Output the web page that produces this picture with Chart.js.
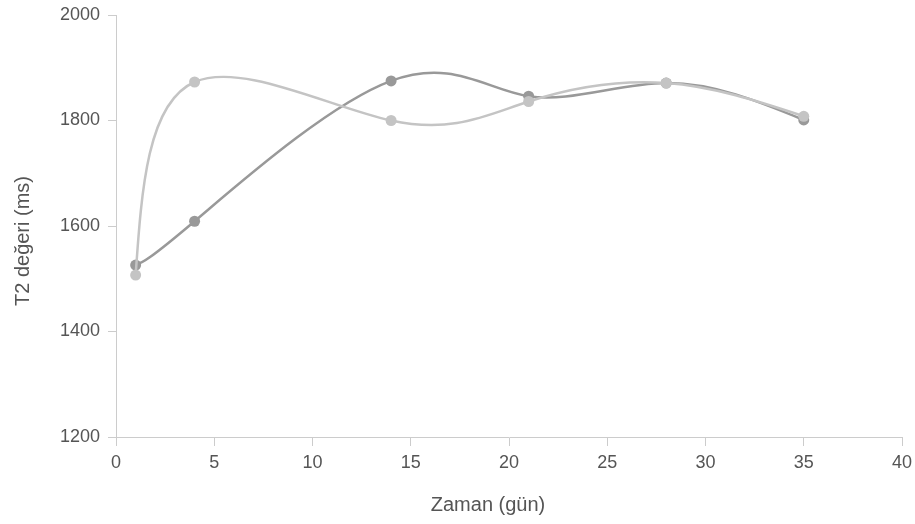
<!DOCTYPE html>
<html>
<head>
<meta charset="utf-8">
<script src="https://cdn.jsdelivr.net/npm/chart.js@4/dist/chart.umd.min.js"></script>
<style>
  html, body { margin: 0; padding: 0; background: #fff; }
  #wrap { width: 915px; height: 524px; position: relative; }
</style>
</head>
<body>
<div id="wrap"><canvas id="c"></canvas></div>
<script>
// Measurement days and T2 values (ms) for the two series
const days = [1, 4, 14, 21, 28, 35];
const seriesA = [1526, 1609, 1875, 1846, 1871, 1801];
const seriesB = [1507, 1873, 1800, 1836, 1871, 1808];
const xTicks = [0, 5, 10, 15, 20, 25, 30, 35, 40];
const yTicks = [1200, 1400, 1600, 1800, 2000];
const xTitle = 'Zaman (gün)';
const yTitle = 'T2 değeri (ms)';

const toPoints = vals => days.map((d, i) => ({ x: d, y: vals[i] }));

// Natural cubic spline control points (one coordinate at a time)
function naturalControls(v) {
  const n = v.length - 1;
  const a = new Array(n), b = new Array(n), r = new Array(n);
  a[0] = 0; b[0] = 2; r[0] = v[0] + 2 * v[1];
  for (let i = 1; i < n - 1; ++i) { a[i] = 1; b[i] = 4; r[i] = 4 * v[i] + 2 * v[i + 1]; }
  a[n - 1] = 2; b[n - 1] = 7; r[n - 1] = 8 * v[n - 1] + v[n];
  for (let i = 1; i < n; ++i) { const m = a[i] / b[i - 1]; b[i] -= m; r[i] -= m * r[i - 1]; }
  a[n - 1] = r[n - 1] / b[n - 1];
  for (let i = n - 2; i >= 0; --i) a[i] = (r[i] - a[i + 1]) / b[i];
  b[n - 1] = (v[n] + a[n - 1]) / 2;
  for (let i = 0; i < n - 1; ++i) b[i] = 2 * v[i + 1] - a[i + 1];
  return [a, b];
}

// Replace the default bezier control points of each line with a natural spline
const naturalCurve = {
  id: 'naturalCurve',
  beforeDatasetsDraw(chart) {
    chart.data.datasets.forEach((ds, i) => {
      const meta = chart.getDatasetMeta(i);
      const pts = meta.data;
      if (!pts || pts.length < 3) return;
      const [ax, bx] = naturalControls(pts.map(p => p.x));
      const [ay, by] = naturalControls(pts.map(p => p.y));
      for (let k = 0; k < pts.length - 1; k++) {
        pts[k].cp2x = ax[k]; pts[k].cp2y = ay[k];
        pts[k + 1].cp1x = bx[k]; pts[k + 1].cp1y = by[k];
      }
      pts[0].cp1x = pts[0].x; pts[0].cp1y = pts[0].y;
      const last = pts[pts.length - 1];
      last.cp2x = last.x; last.cp2y = last.y;
      meta.dataset._pointsUpdated = true;
      meta.dataset._path = undefined;
    });
  }
};

const axisColor = '#cccccc';
const textColor = '#555555';
const fontFamily = '"Liberation Sans", Arial, sans-serif';

// Axis titles, placed relative to the plot area
const axisTitles = {
  id: 'axisTitles',
  afterDraw(chart) {
    const { ctx, chartArea: a } = chart;
    ctx.save();
    ctx.fillStyle = textColor;
    ctx.font = '20px ' + fontFamily;
    ctx.textAlign = 'center';
    ctx.textBaseline = 'alphabetic';
    ctx.fillText(xTitle, (a.left + a.right) / 2 - 21, a.bottom + 74);
    ctx.translate(a.left - 87, (a.top + a.bottom) / 2 + 15);
    ctx.rotate(-Math.PI / 2);
    ctx.fillText(yTitle, 0, 0);
    ctx.restore();
  }
};

new Chart(document.getElementById('c'), {
  type: 'line',
  data: {
    datasets: [
      {
        label: 'A',
        data: toPoints(seriesA),
        borderColor: '#999999',
        backgroundColor: '#999999',
        pointBackgroundColor: '#999999',
        borderWidth: 2.5,
        pointRadius: 5.5,
        pointBorderWidth: 0,
        tension: 0.4,
        fill: false,
        order: 2
      },
      {
        label: 'B',
        data: toPoints(seriesB),
        borderColor: '#c4c4c4',
        backgroundColor: '#c4c4c4',
        pointBackgroundColor: '#c4c4c4',
        borderWidth: 2.5,
        pointRadius: 5.5,
        pointBorderWidth: 0,
        tension: 0.4,
        fill: false,
        order: 1
      }
    ]
  },
  options: {
    responsive: true,
    maintainAspectRatio: false,
    animation: false,
    layout: { padding: { left: 0, right: 13, top: 15, bottom: 0 } },
    plugins: {
      legend: { display: false },
      tooltip: { enabled: false }
    },
    scales: {
      x: {
        type: 'linear',
        min: xTicks[0],
        max: xTicks[xTicks.length - 1],
        afterBuildTicks: s => { s.ticks = xTicks.map(v => ({ value: v })); },
        afterFit: s => { s.height = 87; s.paddingLeft = 0; s.paddingRight = 0; },
        border: { color: axisColor, width: 1 },
        grid: { drawOnChartArea: false, drawTicks: true, tickLength: 9, color: axisColor },
        ticks: { color: textColor, font: { family: fontFamily, size: 18 }, padding: 6, callback: v => String(v) }
      },
      y: {
        type: 'linear',
        min: yTicks[0],
        max: yTicks[yTicks.length - 1],
        afterBuildTicks: s => { s.ticks = yTicks.map(v => ({ value: v })); },
        afterFit: s => { s.width = 116; s.paddingTop = 0; s.paddingBottom = 0; },
        border: { color: axisColor, width: 1 },
        grid: { drawOnChartArea: false, drawTicks: true, tickLength: 8, color: axisColor },
        ticks: { color: textColor, font: { family: fontFamily, size: 18 }, padding: 8, callback: v => String(v) }
      }
    }
  },
  plugins: [naturalCurve, axisTitles]
});
</script>
</body>
</html>
